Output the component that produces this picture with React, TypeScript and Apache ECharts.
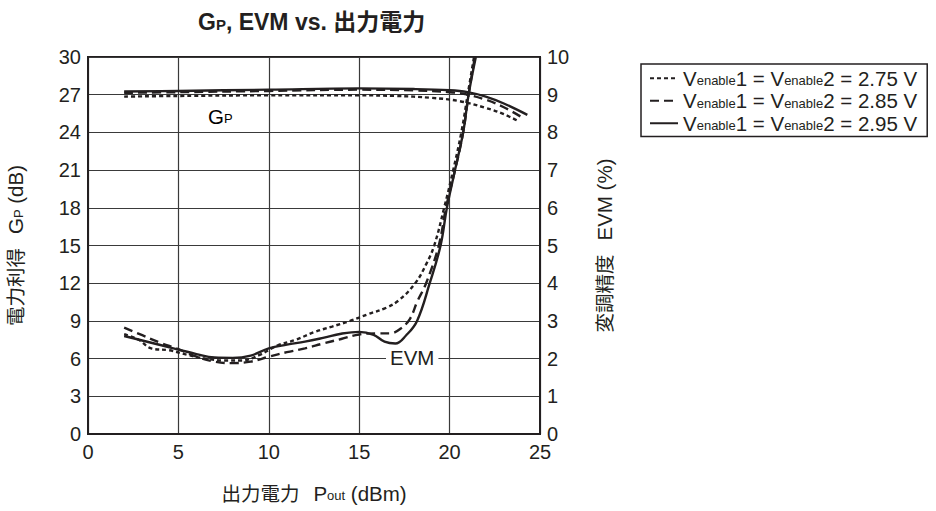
import React, { useEffect, useRef } from "react";
import * as echarts from "echarts";

// Output power (dBm) vs. power gain Gp (dB)
const gp275: [number, number][] = [
  [2, 26.85], [5, 26.9], [10, 26.95], [15, 26.95], [17, 26.9], [19, 26.75],
  [20.5, 26.5], [22, 25.95], [23, 25.45], [23.8, 24.9],
];
const gp285: [number, number][] = [
  [2, 27.15], [5, 27.2], [10, 27.3], [15, 27.4], [18, 27.35], [20, 27.2],
  [21, 27.0], [22, 26.6], [23, 26.0], [24.0, 25.2],
];
const gp295: [number, number][] = [
  [2, 27.25], [5, 27.3], [10, 27.4], [15, 27.5], [18, 27.45], [20, 27.35],
  [21, 27.2], [22, 26.85], [23, 26.3], [24.3, 25.4],
];

// Output power (dBm) vs. EVM (%)
const evm275: [number, number][] = [
  [2, 2.65], [2.8, 2.5], [3.5, 2.27], [4.5, 2.22], [5.5, 2.1], [6.5, 2.0],
  [7.5, 1.95], [8.5, 1.95], [9.5, 2.1], [10.5, 2.35], [11.5, 2.5], [12.5, 2.7],
  [13.5, 2.85], [14.5, 3.0], [15.5, 3.18], [16.5, 3.35], [17.2, 3.55],
  [18.1, 4.0], [18.7, 4.5], [19.15, 5.0], [19.7, 6.0], [20.2, 7.0],
  [20.65, 8.0], [21.0, 9.0], [21.35, 10.0],
];
const evm285: [number, number][] = [
  [2, 2.82], [3, 2.62], [4, 2.42], [5, 2.25], [6, 2.05], [7, 1.92], [8, 1.88],
  [9, 1.92], [10, 2.05], [11, 2.17], [12, 2.27], [13, 2.4], [14, 2.52],
  [15, 2.64], [16, 2.67], [16.7, 2.67], [17.3, 2.8], [17.8, 3.05], [18.2, 3.5],
  [18.7, 4.0], [19.4, 5.0], [19.8, 6.0], [20.3, 7.0], [20.75, 8.0],
  [21.05, 9.0], [21.4, 10.0],
];
const evm295: [number, number][] = [
  [2, 2.6], [3, 2.48], [4, 2.36], [5, 2.24], [6, 2.12], [7, 2.03], [8, 2.02],
  [9, 2.08], [10, 2.27], [11, 2.37], [12, 2.45], [13, 2.55], [14, 2.66],
  [15, 2.71], [15.8, 2.63], [16.4, 2.45], [17.0, 2.4], [17.6, 2.62],
  [18.2, 3.0], [18.9, 4.0], [19.5, 5.0], [19.85, 6.0], [20.3, 7.0],
  [20.75, 8.0], [21.05, 9.0], [21.45, 10.0],
];

const voltages = ["2.75 V", "2.85 V", "2.95 V"];

const FONT = "'Liberation Sans', Arial, 'Noto Sans CJK JP', sans-serif";
const INK = "#231f20";
const FS = 20;

const dotted = { type: [4, 3] as number[], width: 2.4, color: INK };
const dashed = { type: [9, 5] as number[], width: 2.4, color: INK };
const solid = { type: "solid" as const, width: 2.4, color: INK };

function lineSeries(name: string, data: [number, number][], style: any, yAxisIndex: number) {
  return {
    name,
    type: "line",
    data,
    yAxisIndex,
    smooth: 0.4,
    symbol: "none",
    showSymbol: false,
    lineStyle: style,
    itemStyle: { color: INK },
    z: 3,
  };
}

export default function App() {
  const ref = useRef<HTMLDivElement>(null);

  useEffect(() => {
    document.body.style.margin = "0";
    const chart = echarts.init(ref.current!, null, { renderer: "svg" });
    const sub = { fontSize: 13, fontFamily: FONT, color: INK, verticalAlign: "bottom" as const, padding: [0, 0, 1, 0] };
    const big = { fontSize: 20.5, fontFamily: FONT, color: INK, verticalAlign: "bottom" as const };
    const cjk = { fontSize: 19.5, fontFamily: FONT, color: INK, verticalAlign: "bottom" as const, padding: [0, 14, 0, 0] };
    const baseText = { fontSize: FS, fontFamily: FONT, color: INK };

    chart.setOption({
      animation: false,
      backgroundColor: "#fff",
      title: {
        text: "{b|G}{p|P}{b|, EVM vs. 出力電力}",
        left: 193,
        top: 5,
        textStyle: {
          fontSize: 23,
          fontWeight: "bold",
          fontFamily: FONT,
          color: INK,
          rich: {
            b: { fontSize: 23, fontWeight: "bold", fontFamily: FONT, color: INK, verticalAlign: "bottom" },
            p: { fontSize: 15, fontWeight: "bold", fontFamily: FONT, color: INK, verticalAlign: "bottom", padding: [0, 0, 1, 0] },
          },
        },
      },
      legend: {
        orient: "vertical",
        left: 641,
        top: 64,
        data: voltages,
        borderColor: INK,
        borderWidth: 1.5,
        padding: [4, 10, 3, 8],
        itemGap: 2,
        itemWidth: 28,
        itemHeight: 20.5,
        selectedMode: false,
        itemStyle: { opacity: 0, borderWidth: 0 },
        formatter: (name: string) => `{a|V}{s|enable}{a|1 = V}{s|enable}{a|2 = ${name}}`,
        textStyle: {
          ...baseText,
          fontSize: 20.5,
          rich: { a: big, s: sub },
        },
      },
      grid: {
        left: 88,
        right: 396,
        top: 57,
        bottom: 77,
        show: true,
        borderColor: INK,
        borderWidth: 2,
        backgroundColor: "transparent",
      },
      xAxis: {
        type: "value",
        min: 0,
        max: 25,
        interval: 5,
        name: "{c|出力電力}{a|P}{s|out}{a| (dBm)}",
        nameLocation: "middle",
        nameGap: 49,
        nameTextStyle: { ...baseText, rich: { a: big, s: sub, c: cjk } },
        axisLine: { show: true, lineStyle: { color: INK, width: 2 } },
        axisTick: { show: false },
        axisLabel: { ...baseText, margin: 8 },
        splitLine: { show: true, lineStyle: { color: "#3a3a3a", width: 1.2 } },
      },
      yAxis: [
        {
          type: "value",
          min: 0,
          max: 30,
          interval: 3,
          position: "left",
          name: "{c|電力利得}{a|G}{s|P}{a| (dB)}",
          nameLocation: "middle",
          nameRotate: 90,
          nameGap: 62,
          nameTextStyle: { ...baseText, rich: { a: big, s: sub, c: cjk } },
          axisLine: { show: true, lineStyle: { color: INK, width: 2 } },
          axisTick: { show: false },
          axisLabel: { ...baseText, margin: 7 },
          splitLine: { show: true, lineStyle: { color: "#3a3a3a", width: 1.2 } },
        },
        {
          type: "value",
          min: 0,
          max: 10,
          interval: 1,
          position: "right",
          name: "{c|変調精度}{a|EVM (%)}",
          nameLocation: "middle",
          nameRotate: 90,
          nameGap: 54,
          nameTextStyle: { ...baseText, rich: { a: big, c: cjk } },
          axisLine: { show: true, lineStyle: { color: INK, width: 2 } },
          axisTick: { show: false },
          axisLabel: { ...baseText, margin: 7 },
          splitLine: { show: false },
        },
      ],
      graphic: [
        {
          type: "text",
          left: 208,
          top: 106,
          style: { text: "{a|G}{s|P}", rich: { a: big, s: sub } },
        },
        {
          type: "text",
          left: 386,
          top: 346,
          style: {
            text: "EVM",
            ...baseText,
            fontSize: 20.5,
            fill: INK,
            backgroundColor: "#fff",
            padding: [1, 4, 1, 4],
          },
          z: 10,
        },
      ],
      series: [
        lineSeries(voltages[0], gp275, dotted, 0),
        lineSeries(voltages[1], gp285, dashed, 0),
        lineSeries(voltages[2], gp295, solid, 0),
        lineSeries(voltages[0], evm275, dotted, 1),
        lineSeries(voltages[1], evm285, dashed, 1),
        lineSeries(voltages[2], evm295, solid, 1),
      ],
    });
    return () => chart.dispose();
  }, []);

  return (
    <div
      ref={ref}
      style={{ position: "fixed", left: 0, top: 0, width: 936, height: 511 }}
    />
  );
}
